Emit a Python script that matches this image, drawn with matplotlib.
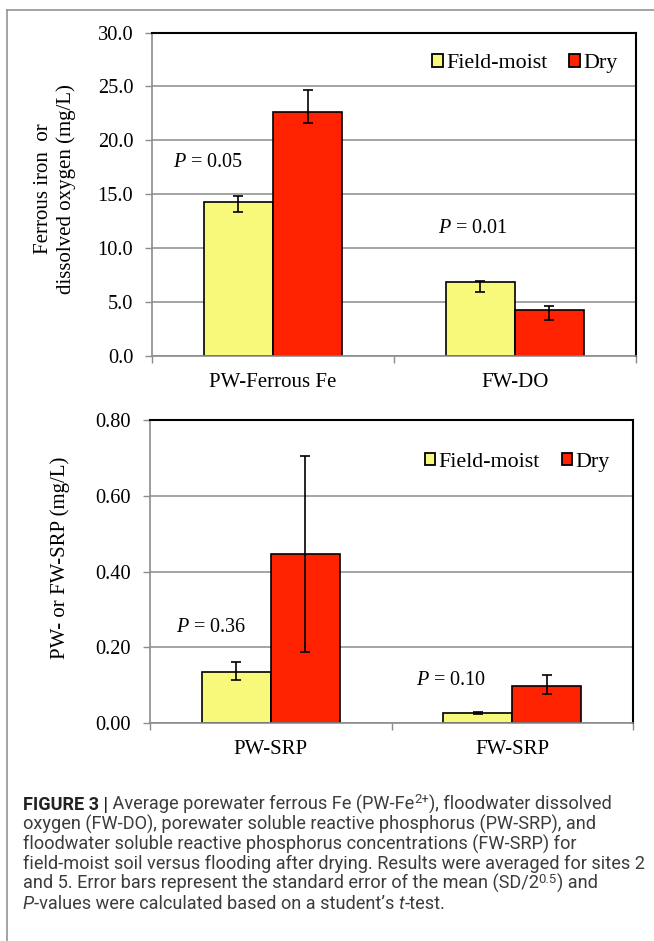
import matplotlib
matplotlib.use("Agg")
import matplotlib.pyplot as plt
from matplotlib.patches import Patch
from matplotlib.lines import Line2D
import numpy as np

# ---------------- data ----------------
groups = ["Field-moist", "Dry"]
cats_top = ["PW-Ferrous Fe", "FW-DO"]
fm_top = [14.3, 6.9]
fm_top_err_lo = [0.97, 0.99]
fm_top_err_hi = [0.50, 0.10]
dry_top = [22.6, 4.3]
dry_top_err_lo = [0.97, 0.97]
dry_top_err_hi = [2.05, 0.38]
p_top = ["0.05", "0.01"]
yticks_top = [0, 5, 10, 15, 20, 25, 30]

cats_bot = ["PW-SRP", "FW-SRP"]
fm_bot = [0.136, 0.027]
fm_bot_err_lo = [0.022, 0.003]
fm_bot_err_hi = [0.025, 0.002]
dry_bot = [0.447, 0.098]
dry_bot_err_lo = [0.258, 0.022]
dry_bot_err_hi = [0.259, 0.030]
p_bot = ["0.36", "0.10"]
yticks_bot = [0.0, 0.2, 0.4, 0.6, 0.8]

# ---------------- style ----------------
W, H = 654, 941
DPI = 100
YELLOW = "#F8F87A"
RED = "#FF2200"
GRAY = "#8C8C8C"
SERIF = "Liberation Serif"
SANS = "Roboto"

plt.rcParams["font.family"] = [SERIF, "DejaVu Serif"]
plt.rcParams["mathtext.fontset"] = "custom"
plt.rcParams["mathtext.it"] = "Liberation Serif:italic"
plt.rcParams["mathtext.rm"] = "Liberation Serif"

fig = plt.figure(figsize=(W / DPI, H / DPI), dpi=DPI)


def px_rect(l, t, r, b):
    return [l / W, 1 - b / H, (r - l) / W, (b - t) / H]


def draw_panel(rect, cats, fm, fm_lo, fm_hi, dry, dry_lo, dry_hi, pvals, p_pos,
               yticks, fmt, ylabel, ylabel_pos, leg_anchor):
    ax = fig.add_axes(rect)
    x = np.arange(len(cats))
    bw = 0.286
    ax.set_axisbelow(True)
    ax.bar(x - bw / 2, fm, bw, color=YELLOW, edgecolor="black", linewidth=1.2, zorder=2)
    ax.bar(x + bw / 2, dry, bw, color=RED, edgecolor="black", linewidth=1.2, zorder=2)
    ax.errorbar(x - bw / 2, fm, yerr=[fm_lo, fm_hi], fmt="none", ecolor="black",
                elinewidth=1.2, capsize=3.6, capthick=1.2, zorder=3)
    ax.errorbar(x + bw / 2, dry, yerr=[dry_lo, dry_hi], fmt="none", ecolor="black",
                elinewidth=1.2, capsize=3.6, capthick=1.2, zorder=3)
    ax.set_xlim(-0.5, len(cats) - 0.5)
    ax.set_ylim(yticks[0], yticks[-1])
    ax.set_yticks(yticks)
    ax.set_yticklabels([fmt.format(v) for v in yticks], fontsize=14.7)
    ax.yaxis.grid(True, color=GRAY, linewidth=1.1, zorder=0)
    ax.tick_params(axis="y", length=5, width=1.0, color=GRAY, pad=8.5, direction="out")
    # category boundaries as major ticks, labels on minor ticks
    ax.set_xticks(np.arange(len(cats) + 1) - 0.5)
    ax.set_xticklabels([])
    ax.tick_params(axis="x", which="major", length=5, width=1.0, color=GRAY, direction="out")
    ax.set_xticks(x, minor=True)
    ax.set_xticklabels(cats, minor=True, fontsize=15)
    ax.tick_params(axis="x", which="minor", length=0, pad=12)
    for s in ("left", "bottom"):
        ax.spines[s].set_color(GRAY)
        ax.spines[s].set_linewidth(1.2)
    for s in ("top", "right"):
        ax.spines[s].set_color("black")
        ax.spines[s].set_linewidth(1.5)
    for (px, py), pv in zip(p_pos, pvals):
        ax.text(px, py, "$P$ = " + pv, ha="center", va="center", fontsize=14.5)
    handles = [Patch(facecolor=YELLOW, edgecolor="black", linewidth=1.3),
               Patch(facecolor=RED, edgecolor="black", linewidth=1.3)]
    ax.legend(handles, groups, ncol=2, loc="center right", bbox_to_anchor=leg_anchor,
              frameon=False, fontsize=15.8, handlelength=0.48, handleheight=0.48,
              handletextpad=0.15, columnspacing=1.0, borderpad=0, borderaxespad=0)
    fig.text(ylabel_pos[0] / W, 1 - ylabel_pos[1] / H, ylabel, rotation=90,
             ha="center", va="center", fontsize=15, linespacing=1.25,
             multialignment="center")
    return ax


draw_panel(px_rect(152, 32.5, 635.7, 356), cats_top, fm_top, fm_top_err_lo, fm_top_err_hi,
           dry_top, dry_top_err_lo, dry_top_err_hi, p_top,
           [(-0.266, 17.9), (0.827, 11.87)], yticks_top, "{:.1f}",
           "Ferrous iron  or\ndissolved oxygen (mg/L)", (55, 189), (0.962, 0.903))

draw_panel(px_rect(150, 420, 633, 723.3), cats_bot, fm_bot, fm_bot_err_lo, fm_bot_err_hi,
           dry_bot, dry_bot_err_lo, dry_bot_err_hi, p_bot,
           [(-0.245, 0.252), (0.748, 0.1125)], yticks_bot, "{:.2f}",
           "PW- or FW-SRP (mg/L)", (60, 558), (0.952, 0.861))

# frame lines (top and left)
fig.add_artist(Line2D([7.3 / W, 1.0], [1 - 9.5 / H, 1 - 9.5 / H], color=GRAY, linewidth=1.1))
fig.add_artist(Line2D([7.3 / W, 7.3 / W], [1 - 9.5 / H, 0.0], color=GRAY, linewidth=1.1))

# ---------------- caption ----------------
caption = [
    [("FIGURE 3 |", "b"), (" Average porewater ferrous Fe (PW-Fe", "n"), ("2+", "s"),
     ("), floodwater dissolved", "n")],
    [("oxygen (FW-DO), porewater soluble reactive phosphorus (PW-SRP), and", "n")],
    [("floodwater soluble reactive phosphorus concentrations (FW-SRP) for", "n")],
    [("field-moist soil versus flooding after drying. Results were averaged for sites 2", "n")],
    [("and 5. Error bars represent the standard error of the mean (SD/2", "n"), ("0.5", "s"),
     (") and", "n")],
    [("P", "i"), ("-values were calculated based on a student\u2019s ", "n"), ("t", "i"),
     ("-test.", "n")],
]

renderer = fig.canvas.get_renderer()


def seg_props(style, fs):
    d = dict(family=[SANS, "DejaVu Sans"], fontsize=fs, color="#3c3c3c", weight="normal")
    if style == "b":
        d.update(weight="bold", color="#222222")
    if style == "i":
        d.update(style="italic")
    if style == "s":
        d.update(fontsize=fs * 0.72)
    return d


def seg_width(s, props):
    t1 = fig.text(0, 0, "X" + s + "X", **props)
    t2 = fig.text(0, 0, "XX", **props)
    w = t1.get_window_extent(renderer).width - t2.get_window_extent(renderer).width
    t1.remove()
    t2.remove()
    return w


# fit font size so that line 4 spans the measured width
ref_fs = 12.0
w_ref = seg_width(caption[3][0][0], seg_props("n", ref_fs))
cap_fs = ref_fs * (643 - 22.7) / w_ref

x0, base0, lead = 22.7, 810.0, 19.8
for i, line in enumerate(caption):
    xcur = x0
    yb = base0 + i * lead
    for s, style in line:
        props = seg_props(style, cap_fs)
        dy = -cap_fs * 0.36 * DPI / 72 if style == "s" else 0
        fig.text(xcur / W, 1 - (yb + dy) / H, s, ha="left", va="baseline", **props)
        xcur += seg_width(s, props)

fig.savefig("out.png", dpi=DPI)
